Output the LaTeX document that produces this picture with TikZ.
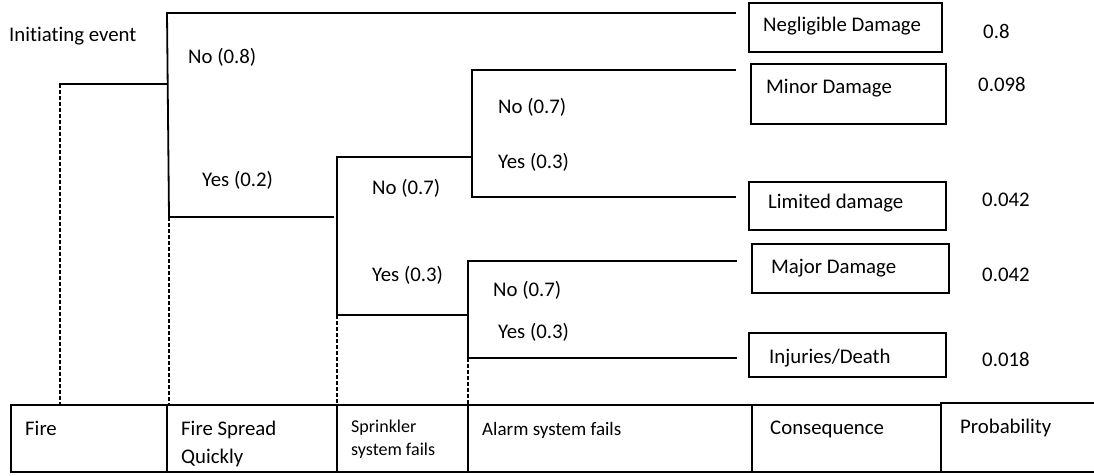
\documentclass[tikz,border=0pt]{standalone}
\usepackage{fontspec}
\setmainfont{Carlito}[Ligatures={NoCommon}]
\begin{document}
\begin{tikzpicture}[x=1pt,y=-1pt,
  tree/.style={line width=1.8pt, line cap=rect},
  dashline/.style={line width=1.3pt, dash pattern=on 4pt off 2pt},
  grid/.style={line width=1.5pt},
  box/.style={draw, line width=1.3pt, inner sep=0pt},
  lbl/.style={anchor=west, inner sep=0pt, text height=13.4pt, text depth=0pt, font=\fontsize{20.8}{25}\selectfont},
  small/.style={lbl, text height=11.6pt, font=\fontsize{18}{22}\selectfont},
  mid/.style={lbl, text height=12.3pt, font=\fontsize{19}{23}\selectfont}]
\useasboundingbox (0,0) rectangle (1094,475);

% ---------- table ----------
\draw[grid] (11,405) rectangle (752,472);
\draw[grid] (167,405) -- (167,472);
\draw[grid] (337,405) -- (337,472);
\draw[grid] (468,405) -- (468,472);
\draw[grid, line width=1.8pt] (752,405) rectangle (941,472);
\draw[grid, line width=1.8pt] (1094,403) -- (941,403) -- (941,472) -- (1094,472);

\node[lbl] (tfire) at (25,429) {Fire};
\node[lbl] (tspread1) at (181,429) {Fire Spread};
\node[lbl] (tspread2) at (181,457) {Quickly};
\node[small] (tspr1) at (351,427) {Sprinkler};
\node[small] (tspr2) at (351,450) {system fails};
\node[mid] (talarm) at (482,429) {Alarm system fails};
\node[lbl] (tcons) at (770,428) {Consequence};
\node[lbl] (tprob) at (960,427) {Probability};

% ---------- coordinates ----------
\coordinate (f0) at (60,84);
\coordinate (f0b) at (60,405);
\coordinate (b1) at (167,84);
\coordinate (b1t) at (167,13);
\coordinate (b1b) at (169,217);
\coordinate (b1bd) at (169,405);
\coordinate (e1) at (735,13);
\coordinate (s1) at (333,217);
\coordinate (b2t) at (337,157);
\coordinate (b2b) at (337,315);
\coordinate (b2bd) at (337,405);
\coordinate (b3m) at (472,157);
\coordinate (b3t) at (472,70);
\coordinate (b3b) at (472,197);
\coordinate (e2) at (735,70);
\coordinate (e3) at (735,197);
\coordinate (b4m) at (467,315);
\coordinate (b4t) at (468,261);
\coordinate (b4b) at (468,358);
\coordinate (b4bd) at (468,405);
\coordinate (e4) at (736,261);
\coordinate (e5) at (736,358);

% ---------- tree ----------
\draw[tree] (f0) -- (b1);
\draw[tree] (b1t) -- (b1b);
\draw[tree] (b1t) -- (e1);
\draw[tree] (b1b) -- (s1);
\draw[tree] (b2t) -- (b2b);
\draw[tree, line width=2.2pt] (b2t) -- (b3m);
\draw[tree] (b3t) -- (b3b);
\draw[tree] (b3t) -- (e2);
\draw[tree] (b3b) -- (e3);
\draw[tree] (b2b) -- (b4m);
\draw[tree, line width=2.2pt] (b4t) -- (b4b);
\draw[tree, line width=2.2pt] (b4t) -- (e4);
\draw[tree, line width=2.2pt] (b4b) -- (e5);

\draw[dashline] (f0) -- (f0b);
\draw[dashline] (b1b) -- (b1bd);
\draw[dashline] (b2b) -- (b2bd);
\draw[dashline] (b4b) -- (b4bd);

% ---------- branch labels ----------
\node[lbl] (init) at (9,35) {Initiating event};
\node[lbl] (n08) at (188,57) {No (0.8)};
\node[lbl] (y02) at (202,180) {Yes (0.2)};
\node[lbl] (n07a) at (498,107) {No (0.7)};
\node[lbl] (y03a) at (498,162) {Yes (0.3)};
\node[lbl] (n07s) at (372,188) {No (0.7)};
\node[lbl] (y03s) at (372,275) {Yes (0.3)};
\node[lbl] (n07b) at (493,290) {No (0.7)};
\node[lbl] (y03b) at (498,332) {Yes (0.3)};

% ---------- consequence boxes ----------
\node[box, minimum width=193pt, minimum height=49pt] (bneg) at (845.5,27.5) {};
\node[box, minimum width=195pt, minimum height=60pt] (bmin) at (848.5,94) {};
\node[box, minimum width=197pt, minimum height=48pt] (blim) at (847.5,206) {};
\node[box, minimum width=197pt, minimum height=49pt] (bmaj) at (850.5,268.5) {};
\node[box, minimum width=197pt, minimum height=44pt] (binj) at (847.5,355) {};

\node[lbl] (lneg) at (763,25) {Negligible Damage};
\node[lbl] (lmin) at (766,87) {Minor Damage};
\node[lbl] (llim) at (768,202) {Limited damage};
\node[lbl] (lmaj) at (771,267) {Major Damage};
\node[lbl] (linj) at (769,357) {Injuries/Death};

% ---------- probabilities ----------
\node[lbl] (p1) at (983,32) {0.8};
\node[lbl] (p2) at (978,85) {0.098};
\node[lbl] (p3) at (982,200) {0.042};
\node[lbl] (p4) at (982,275) {0.042};
\node[lbl] (p5) at (982,360) {0.018};
\end{tikzpicture}
\end{document}
